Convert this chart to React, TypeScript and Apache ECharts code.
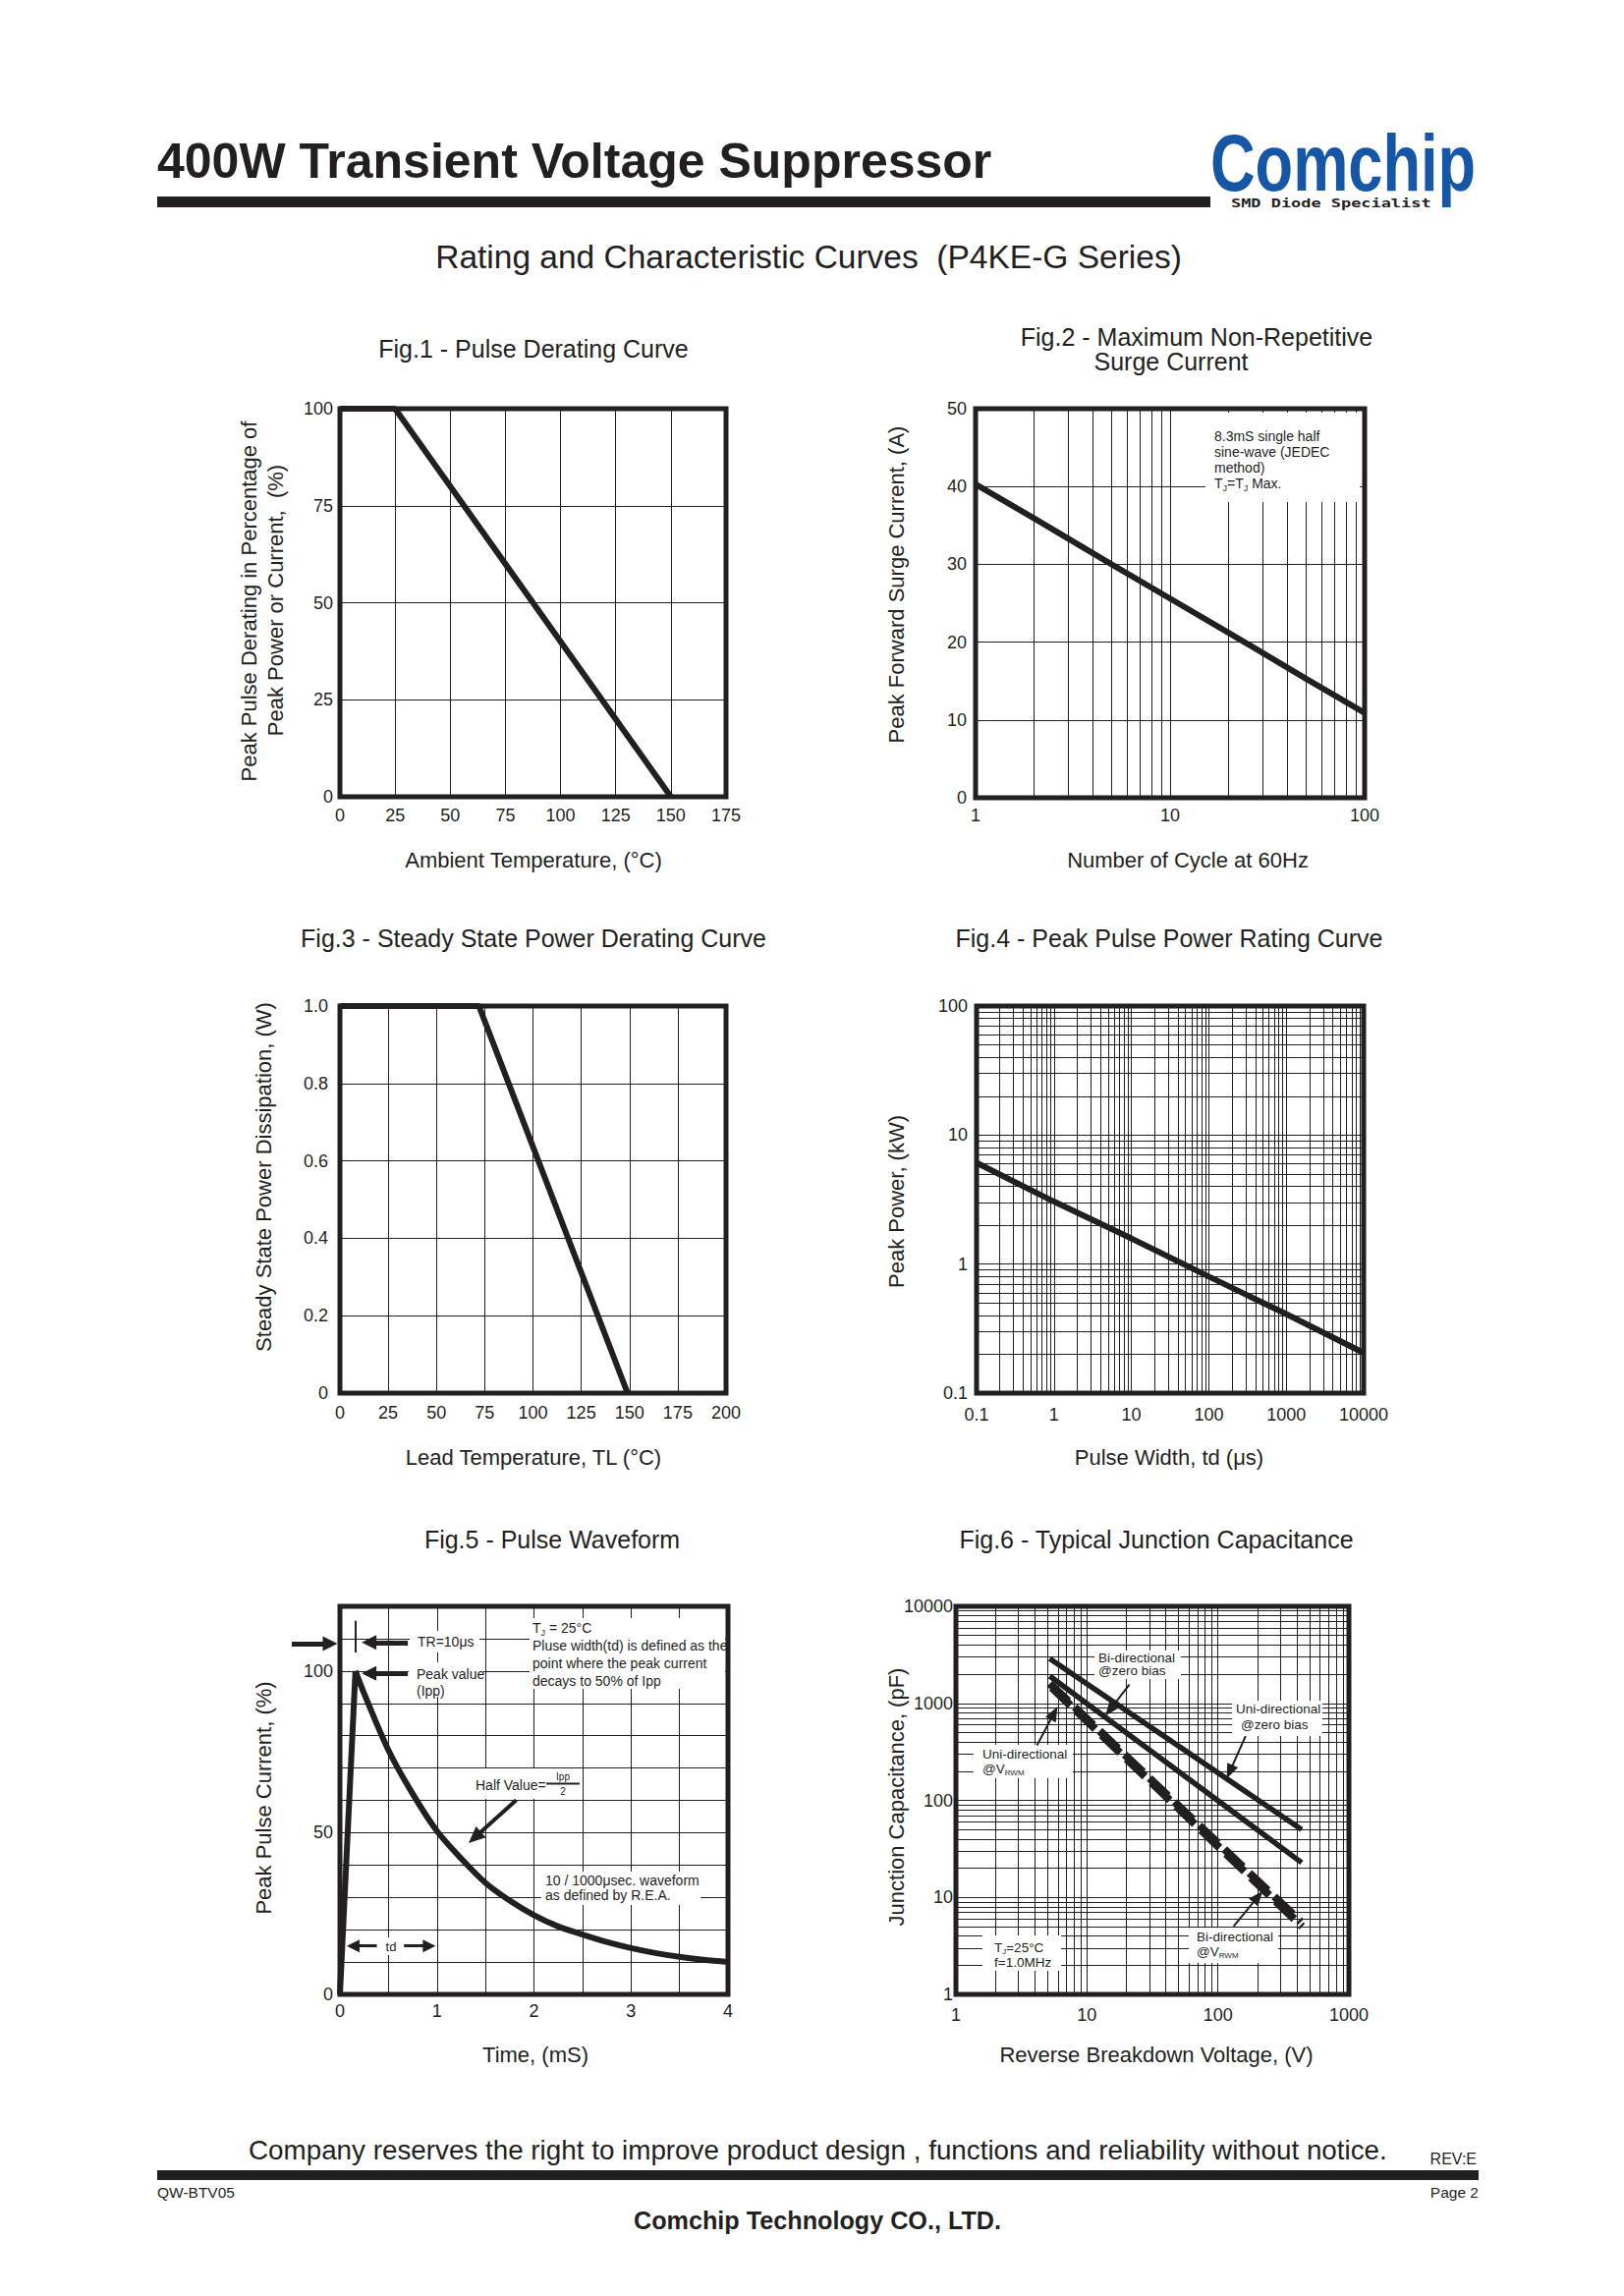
import React, { useEffect, useRef } from "react";
import * as echarts from "echarts";

const INK = "#231f20";
const LOGO_BLUE = "#1656a6";
const FONT = "'Liberation Sans', Arial, Helvetica, sans-serif";

// ---------------- data ----------------
// Fig.1 Pulse derating
const fig1Temp = [0, 25, 150];
const fig1Derating = [100, 100, 0];
// Fig.2 Surge current
const fig2Cycles = [1, 2, 5, 10, 20, 50, 100];
const fig2Surge = [40.3, 35.9, 30.0, 25.6, 21.2, 15.3, 10.9];
// Fig.3 Steady state power derating
const fig3Lead = [0, 72, 149];
const fig3Power = [1, 1, 0];
// Fig.4 Peak pulse power
const fig4Width = [0.1, 1, 10, 100, 1000, 10000];
const fig4Power = [6.1, 3.05, 1.58, 0.8, 0.41, 0.205];
// Fig.5 Pulse waveform
const fig5RiseTime = [0, 0.16];
const fig5RiseCurrent = [0, 100];
const fig5DecayTime = [0.16, 0.25, 0.5, 0.75, 1, 1.25, 1.5, 1.75, 2, 2.25, 2.5, 2.75, 3, 3.25, 3.5, 3.75, 4];
const fig5DecayCurrent = [100, 93, 75.5, 62, 50.5, 42, 34.5, 29, 24.5, 21, 18.5, 16.2, 14.3, 12.8, 11.6, 10.7, 10];
// Fig.6 Junction capacitance
const fig6ZeroVoltage = [5.2, 436];
const fig6UniZero = [2885, 50];
const fig6BiZero = [1910, 22.8];
const fig6UniVrwmVoltage = [5.2, 430];
const fig6UniVrwm = [1600, 5.6];
const fig6BiVrwmVoltage = [5.4, 440];
const fig6BiVrwm = [1450, 5.0];

// annotation arrows (data coordinates, or pixel {x,y} when outside the plot)
const fig5Arrows = [
  { from: { x: 297, y: 1673 }, to: { x: 336, y: 1673 }, w: 5, head: [15, 15] },
  { from: [0.7, 108.8], to: [0.3, 108.8], w: 5, head: [15, 15] },
  { from: [0.7, 99.3], to: [0.3, 99.3], w: 5, head: [15, 15] },
  { from: [0.162, 115.5], to: [0.162, 105.7], w: 2, head: null },
  { from: [1.817, 60.1], to: [1.39, 48.5], w: 4, head: [15, 17] },
  { from: [0.38, 15], to: [0.136, 15], w: 3, head: [13, 13] },
  { from: [0.66, 15], to: [0.92, 15], w: 3, head: [13, 13] },
];
const fig6Arrows = [
  { from: [21.1, 1563], to: [14.96, 855], w: 2, head: [12, 15] },
  { from: [162.6, 459], to: [123, 196.7], w: 2, head: [12, 15] },
  { from: [4.16, 369], to: [5.61, 793], w: 2, head: [12, 15] },
  { from: [131.8, 5.05], to: [202.4, 10.15], w: 2, head: [12, 15] },
];

// ---------------- helpers ----------------
const pts = (xs: number[], ys: number[]) => xs.map((x, i) => [x, ys[i]]);

function logMinors(lo: number, hi: number): number[] {
  const out: number[] = [];
  for (let d = lo; d < hi * 0.999; d = +(d * 10).toPrecision(6)) {
    for (let m = 2; m <= 9; m++) out.push(+(m * d).toPrecision(6));
  }
  return out;
}

const gridBoxes = [
  { left: 346, top: 416, width: 393, height: 395 },
  { left: 993, top: 416, width: 396, height: 396 },
  { left: 346, top: 1024, width: 393, height: 394 },
  { left: 994, top: 1024, width: 394, height: 394 },
  { left: 346, top: 1635, width: 395, height: 395 },
  { left: 973, top: 1635, width: 400, height: 395 },
];

const labelStyle = (margin: number, formatter?: any) => {
  const o: any = { color: INK, fontSize: 18, fontFamily: FONT, margin, showMinLabel: true, showMaxLabel: true, hideOverlap: false };
  if (formatter) o.formatter = formatter;
  return o;
};

const common = {
  axisLine: { show: false },
  axisTick: { show: false },
  splitLine: { show: true, lineStyle: { color: INK, width: 1, type: "solid" } },
};

const valueAxis = (gridIndex: number, min: number, max: number, interval: number, margin: number, formatter?: any) => ({
  type: "value", gridIndex, min, max, interval, ...common, axisLabel: labelStyle(margin, formatter),
});
const logAxis = (gridIndex: number, min: number, max: number, margin: number) => ({
  type: "log", logBase: 10, gridIndex, min, max, ...common, axisLabel: labelStyle(margin, (v: number) => String(v)),
});

const curve = (i: number, data: number[][], width = 6, dash: any = "solid", smooth: any = false) => ({
  type: "line", xAxisIndex: i, yAxisIndex: i, data, symbol: "none", showSymbol: false, silent: true, z: 5,
  color: INK, smooth, lineStyle: { color: INK, width, type: dash, cap: "butt" },
});

const gridLines = (i: number, xs: number[], ys: number[]) => ({
  type: "line", xAxisIndex: i, yAxisIndex: i, data: [], silent: true, z: 1, color: INK,
  markLine: {
    silent: true, z: 1, symbol: "none", animation: false, label: { show: false },
    lineStyle: { color: INK, width: 1, type: "solid" },
    data: [...xs.map((v) => ({ xAxis: v })), ...ys.map((v) => ({ yAxis: v }))],
  },
});

const pos = (p: any) => (Array.isArray(p) ? { coord: p } : { x: p.x, y: p.y });
const arrowSeries = (i: number, list: any[]) => ({
  type: "line", xAxisIndex: i, yAxisIndex: i, data: [], silent: true, z: 6, clip: false, color: INK,
  markLine: {
    silent: true, z: 6, animation: false, label: { show: false }, itemStyle: { color: INK },
    lineStyle: { color: INK, type: "solid" },
    data: list.map((a) => [
      { ...pos(a.from), symbol: "none", lineStyle: { color: INK, width: a.w, type: "solid" } },
      { ...pos(a.to), symbol: a.head ? "triangle" : "none", symbolSize: a.head || 0, itemStyle: { color: INK } },
    ]),
  },
});

const text = (x: number, y: number, t: string, o: any = {}) => {
  const style: any = {
    text: t, fill: o.fill ?? INK, fontFamily: o.family ?? FONT, fontSize: o.size ?? 14,
    fontWeight: o.weight ?? "normal", align: o.align ?? "left", verticalAlign: o.va ?? "middle",
  };
  if (o.lh) style.lineHeight = o.lh;
  if (o.rich) style.rich = o.rich;
  return { type: "text", x, y, z: 10, silent: true, rotation: o.rot ?? 0, scaleX: o.sx ?? 1, style };
};
const subRich = (fs: number) => ({
  s: { fontSize: Math.round(fs * 0.62), fontFamily: FONT, fill: INK, verticalAlign: "bottom", lineHeight: fs + 4 },
});
const rect = (x: number, y: number, w: number, h: number, fill = "#ffffff", z = 3) => ({
  type: "rect", shape: { x, y, width: w, height: h }, style: { fill }, z, silent: true,
});

function buildOption() {
  const R = Math.PI / 2;
  const graphic: any[] = [
    // header
    text(160, 164, "400W Transient Voltage Suppressor", { size: 50, weight: "bold" }),
    rect(160, 200, 1072, 11, INK, 2),
    text(1232, 166, "Comchip", { size: 82, weight: "bold", fill: LOGO_BLUE, sx: 0.77 }),
    text(1253, 207, "SMD Diode Specialist", { size: 12, weight: "bold", family: "'DejaVu Sans Mono', monospace", sx: 1.41 }),
    text(823, 261, "Rating and Characteristic Curves  (P4KE-G Series)", { size: 33.5, align: "center" }),

    // figure titles
    text(543, 355, "Fig.1 - Pulse Derating Curve", { size: 25, align: "center" }),
    text(1218, 343, "Fig.2 - Maximum Non-Repetitive", { size: 25, align: "center" }),
    text(1192, 368, "Surge Current", { size: 25, align: "center" }),
    text(543, 955, "Fig.3 - Steady State Power Derating Curve", { size: 25, align: "center" }),
    text(1190, 955, "Fig.4 - Peak Pulse Power Rating Curve", { size: 25, align: "center" }),
    text(562, 1567, "Fig.5 - Pulse Waveform", { size: 25, align: "center" }),
    text(1177, 1567, "Fig.6 - Typical Junction Capacitance", { size: 25, align: "center" }),

    // x axis names
    text(543, 875, "Ambient Temperature, (°C)", { size: 22, align: "center" }),
    text(1209, 875, "Number of Cycle at 60Hz", { size: 22, align: "center" }),
    text(543, 1483, "Lead Temperature, TL (°C)", { size: 22, align: "center" }),
    text(1190, 1483, "Pulse Width, td (μs)", { size: 22, align: "center" }),
    text(545, 2091, "Time, (mS)", { size: 22, align: "center" }),
    text(1177, 2091, "Reverse Breakdown Voltage, (V)", { size: 22, align: "center" }),

    // y axis names
    text(253, 612, "Peak Pulse Derating in Percentage of", { size: 22, align: "center", rot: R }),
    text(280, 611, "Peak Power or Current,  (%)", { size: 22, align: "center", rot: R }),
    text(912, 595, "Peak Forward Surge Current, (A)", { size: 22, align: "center", rot: R }),
    text(268, 1198, "Steady State Power Dissipation, (W)", { size: 22, align: "center", rot: R }),
    text(912, 1223, "Peak Power, (kW)", { size: 22, align: "center", rot: R }),
    text(268, 1830, "Peak Pulse Current, (%)", { size: 22, align: "center", rot: R }),
    text(912, 1829, "Junction Capacitance, (pF)", { size: 22, align: "center", rot: R }),

    // Fig.2 annotation
    rect(1227, 420, 157, 91),
    text(1236, 444, "8.3mS single half", { size: 14 }),
    text(1236, 460, "sine-wave (JEDEC", { size: 14 }),
    text(1236, 476, "method)", { size: 14 }),
    text(1236, 492, "T{s|J}=T{s|J} Max.", { size: 14, lh: 18, rich: subRich(14) }),

    // Fig.5 annotations
    rect(417, 1660, 71, 22),
    rect(416, 1692, 76, 35),
    rect(539, 1647, 199, 72),
    rect(480, 1800, 110, 31),
    rect(551, 1905, 162, 34),
    rect(389, 1972, 19, 18),
    text(425, 1671, "TR=10μs", { size: 14 }),
    text(424, 1704, "Peak value", { size: 14 }),
    text(424, 1721, "(Ipp)", { size: 14 }),
    text(542, 1657, "T{s|J} = 25°C", { size: 14, lh: 18, rich: subRich(14) }),
    text(542, 1675, "Pluse width(td) is defined as the", { size: 14 }),
    text(542, 1693, "point where the peak current", { size: 14 }),
    text(542, 1711, "decays to 50% of Ipp", { size: 14 }),
    text(484, 1817, "Half Value=", { size: 14 }),
    text(573, 1808, "Ipp", { size: 10, align: "center" }),
    { type: "line", z: 10, silent: true, shape: { x1: 556, y1: 1815.5, x2: 590, y2: 1815.5 }, style: { stroke: INK, lineWidth: 2 } },
    text(573, 1823, "2", { size: 10, align: "center" }),
    text(555, 1914, "10 / 1000μsec. waveform", { size: 14 }),
    text(555, 1928.5, "as defined by R.E.A.", { size: 14 }),
    text(398, 1981, "td", { size: 13, align: "center" }),

    // Fig.6 annotations
    rect(1114, 1680, 88, 29),
    rect(1254, 1731, 92, 36),
    rect(991, 1776, 101, 34),
    rect(1210, 1962, 91, 36),
    rect(1000, 1970, 80, 36),
    text(1118, 1687, "Bi-directional", { size: 13.5 }),
    text(1118, 1700, "@zero bias", { size: 13.5 }),
    text(1258, 1739, "Uni-directional", { size: 13.5 }),
    text(1263, 1755, "@zero bias", { size: 13.5 }),
    text(1000, 1785, "Uni-directional", { size: 13.5 }),
    text(1000, 1800, "@V{s|RWM}", { size: 13.5, lh: 17, rich: subRich(13.5) }),
    text(1218, 1971, "Bi-directional", { size: 13.5 }),
    text(1218, 1986, "@V{s|RWM}", { size: 13.5, lh: 17, rich: subRich(13.5) }),
    text(1012, 1982, "T{s|J}=25°C", { size: 13.5, lh: 17, rich: subRich(13.5) }),
    text(1012, 1997, "f=1.0MHz", { size: 13.5 }),

    // footer
    text(253, 2188, "Company reserves the right to improve product design , functions and reliability without notice.", { size: 27.8 }),
    text(1503, 2197, "REV:E", { size: 16, align: "right" }),
    rect(160, 2209, 1345, 10, INK, 2),
    text(160, 2231, "QW-BTV05", { size: 15.5 }),
    text(1505, 2231, "Page 2", { size: 15.5, align: "right" }),
    text(832, 2260, "Comchip Technology CO., LTD.", { size: 25.2, weight: "bold", align: "center" }),
  ];

  return {
    animation: false,
    backgroundColor: "#ffffff",
    textStyle: { fontFamily: FONT },
    grid: gridBoxes.map((g) => ({
      ...g, show: true, borderColor: INK, borderWidth: 5, backgroundColor: "transparent",
      containLabel: false, outerBoundsMode: "none",
    })),
    xAxis: [
      valueAxis(0, 0, 175, 25, 10),
      logAxis(1, 1, 100, 9),
      valueAxis(2, 0, 200, 25, 11),
      logAxis(3, 0.1, 10000, 13),
      valueAxis(4, 0, 4, 0.5, 8, (v: number) => (Math.abs(v - Math.round(v)) < 1e-9 ? String(Math.round(v)) : "")),
      logAxis(5, 1, 1000, 12),
    ],
    yAxis: [
      valueAxis(0, 0, 100, 25, 7),
      valueAxis(1, 0, 50, 10, 9),
      valueAxis(2, 0, 1, 0.2, 12, (v: number) => (v === 0 ? "0" : v.toFixed(1))),
      logAxis(3, 0.1, 100, 9),
      valueAxis(4, 0, 120, 10, 7, (v: number) => (v === 0 || v === 50 || v === 100 ? String(v) : "")),
      logAxis(5, 1, 10000, 3),
    ],
    series: [
      gridLines(1, logMinors(1, 100), []),
      gridLines(3, logMinors(0.1, 10000), logMinors(0.1, 100)),
      gridLines(5, logMinors(1, 1000), logMinors(1, 10000)),

      curve(0, pts(fig1Temp, fig1Derating)),
      curve(1, pts(fig2Cycles, fig2Surge)),
      curve(2, pts(fig3Lead, fig3Power)),
      curve(3, pts(fig4Width, fig4Power)),
      curve(4, pts(fig5RiseTime, fig5RiseCurrent)),
      curve(4, pts(fig5DecayTime, fig5DecayCurrent), 6, "solid", 0.3),
      curve(5, pts(fig6ZeroVoltage, fig6UniZero), 5.5),
      curve(5, pts(fig6ZeroVoltage, fig6BiZero), 5.5),
      curve(5, pts(fig6UniVrwmVoltage, fig6UniVrwm), 8, [26, 9]),
      curve(5, pts(fig6BiVrwmVoltage, fig6BiVrwm), 8, [26, 9]),

      arrowSeries(4, fig5Arrows),
      arrowSeries(5, fig6Arrows),
    ],
    graphic,
  };
}

export default function App() {
  const ref = useRef<HTMLDivElement>(null);
  useEffect(() => {
    if (!ref.current) return;
    const chart = echarts.init(ref.current, null, { renderer: "svg", width: 1653, height: 2337 });
    chart.setOption(buildOption() as any);
    return () => chart.dispose();
  }, []);
  return (
    <div
      ref={ref}
      style={{ position: "absolute", left: 0, top: 0, width: 1653, height: 2337, background: "#ffffff" }}
    />
  );
}
